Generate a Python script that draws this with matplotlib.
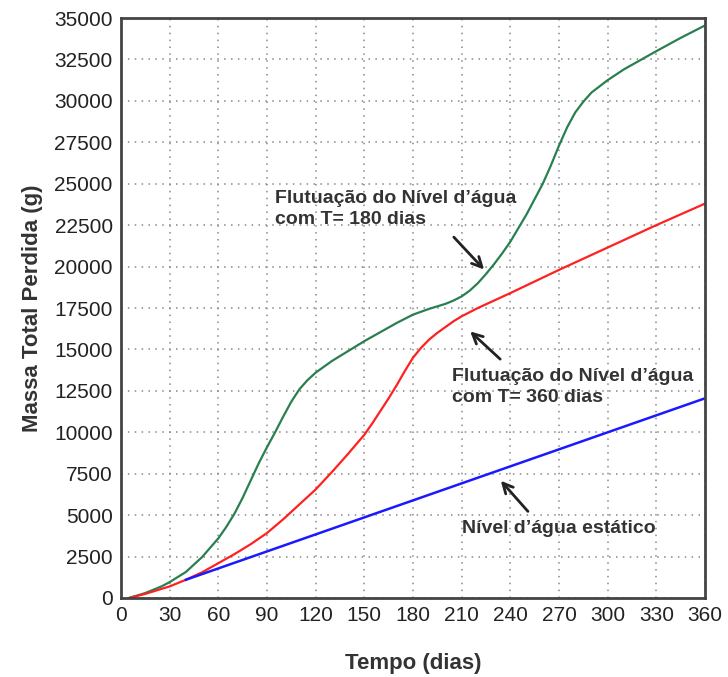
import matplotlib
matplotlib.use("Agg")
import matplotlib.pyplot as plt

plt.rcParams['font.family'] = ['Liberation Sans', 'DejaVu Sans']

# Data (days, grams)
green_x = [5, 15, 25, 30, 40, 50, 60, 65, 70, 75, 80, 85, 90, 95, 100, 105, 110, 115, 120,
           130, 140, 150, 160, 170, 180, 190, 200, 205, 210, 215, 220, 225, 230, 235, 240,
           250, 260, 265, 270, 275, 280, 285, 290, 300, 310, 320, 330, 345, 360]
green_y = [0, 300, 700, 960, 1570, 2470, 3600, 4300, 5100, 6050, 7100, 8150, 9100, 10000,
           10950, 11850, 12600, 13150, 13600, 14300, 14900, 15500, 16050, 16600, 17100, 17450,
           17750, 17950, 18200, 18550, 19000, 19550, 20150, 20800, 21500, 23150, 25000, 26100,
           27300, 28400, 29300, 29950, 30500, 31250, 31900, 32450, 33000, 33800, 34550]

red_x = [5, 15, 25, 30, 40, 50, 60, 70, 80, 90, 100, 110, 120, 130, 140, 150, 155, 160, 165,
         170, 175, 180, 185, 190, 195, 200, 205, 210, 215, 220, 230, 240, 270, 300, 330, 360]
red_y = [0, 250, 550, 700, 1100, 1550, 2100, 2650, 3250, 3920, 4750, 5650, 6550, 7600, 8700,
         9850, 10550, 11300, 12050, 12850, 13700, 14500, 15100, 15600, 16000, 16350, 16700,
         17000, 17250, 17500, 17950, 18400, 19800, 21150, 22500, 23800]

blue_x = [40, 360]
blue_y = [1100, 12050]

x_ticks = list(range(0, 361, 30))
y_ticks = list(range(0, 35001, 2500))

fig = plt.figure(figsize=(7.28, 6.77), dpi=100)
ax = fig.add_axes([0.1662, 0.1167, 0.8022, 0.8567])

ax.plot(green_x, green_y, color='#2a7f50', lw=1.6)
ax.plot(red_x, red_y, color='#ff2020', lw=1.6)
ax.plot(blue_x, blue_y, color='#1a1aff', lw=1.8)

ax.set_xlim(0, 360)
ax.set_ylim(0, 35000)
ax.set_xticks(x_ticks)
ax.set_yticks(y_ticks)
ax.set_xticklabels([str(v) for v in x_ticks])
ax.set_yticklabels([str(v) for v in y_ticks])
ax.tick_params(length=0, labelsize=15, colors='#222222', pad=6)
ax.grid(True, linestyle=(0, (1, 3.5)), color='#888888', lw=1.1)
for s in ax.spines.values():
    s.set_color('#444444')
    s.set_linewidth(2)

ax.set_xlabel('Tempo (dias)', fontsize=16, fontweight='bold', color='#333333', labelpad=20)
ax.set_ylabel('Massa Total Perdida (g)', fontsize=16, fontweight='bold', color='#333333', labelpad=8)

tkw = dict(fontsize=14, fontweight='bold', color='#333333', ha='left', va='top',
           linespacing=1.3)
akw = dict(arrowstyle='->', color='#222222', lw=2, mutation_scale=18)

ax.annotate('', xy=(225, 19700), xytext=(204, 21900), arrowprops=akw)
ax.text(95, 24600, 'Flutuação do Nível d\u2019água\ncom T= 180 dias', **tkw)

ax.annotate('', xy=(214, 16200), xytext=(235, 14300), arrowprops=akw)
ax.text(204, 13850, 'Flutuação do Nível d\u2019água\ncom T= 360 dias', **tkw)

ax.annotate('', xy=(233, 7200), xytext=(252, 5100), arrowprops=akw)
ax.text(210, 4700, 'Nível d\u2019água estático', **tkw)

fig.savefig('out.png', dpi=100)
